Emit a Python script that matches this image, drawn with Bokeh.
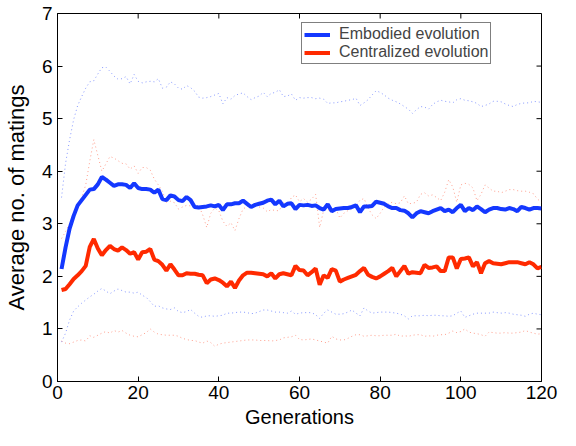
import math
from bokeh.plotting import figure
from bokeh.models import Legend, LegendItem, Range1d, FixedTicker
from bokeh.embed import file_html
from bokeh.resources import INLINE

generations = list(range(1, 121))

embodied_mean = [
    2.14, 2.55, 2.91, 3.15, 3.35, 3.45, 3.55, 3.65, 3.66, 3.75,
    3.89, 3.84, 3.78, 3.72, 3.75, 3.75, 3.74, 3.68, 3.77, 3.68,
    3.66, 3.66, 3.65, 3.59, 3.65, 3.47, 3.45, 3.54, 3.52, 3.45,
    3.43, 3.51, 3.45, 3.32, 3.31, 3.32, 3.33, 3.35, 3.33, 3.36,
    3.26, 3.37, 3.37, 3.39, 3.39, 3.44, 3.38, 3.32, 3.36, 3.38,
    3.40, 3.44, 3.46, 3.37, 3.44, 3.33, 3.38, 3.39, 3.28, 3.36,
    3.35, 3.36, 3.34, 3.35, 3.30, 3.27, 3.37, 3.24, 3.28, 3.29,
    3.30, 3.30, 3.32, 3.35, 3.22, 3.33, 3.33, 3.34, 3.42, 3.40,
    3.38, 3.33, 3.30, 3.30, 3.26, 3.25, 3.20, 3.12, 3.20, 3.24,
    3.22, 3.20, 3.24, 3.27, 3.30, 3.24, 3.27, 3.22, 3.30, 3.36,
    3.24, 3.30, 3.26, 3.33, 3.28, 3.22, 3.27, 3.30, 3.30, 3.28,
    3.27, 3.30, 3.28, 3.24, 3.32, 3.30, 3.27, 3.30, 3.30, 3.29,
]

centralized_mean = [
    1.74, 1.76, 1.85, 1.95, 2.02, 2.10, 2.20, 2.56, 2.71, 2.53,
    2.40, 2.50, 2.58, 2.52, 2.49, 2.55, 2.50, 2.43, 2.46, 2.32,
    2.46, 2.47, 2.52, 2.32, 2.29, 2.22, 2.11, 2.23, 2.13, 2.02,
    2.02, 2.06, 2.05, 2.05, 2.03, 2.02, 1.87, 1.94, 1.96, 1.93,
    1.88, 1.81, 1.90, 1.78, 1.92, 2.02, 2.07, 2.07, 2.06, 2.05,
    2.04, 2.00, 2.06, 1.96, 2.04, 2.06, 2.04, 2.02, 2.20, 2.12,
    2.11, 2.02, 2.08, 2.15, 1.84, 2.02, 1.97, 2.14, 2.11, 1.90,
    1.94, 1.97, 2.00, 2.03, 2.10, 2.16, 2.03, 1.99, 1.96, 2.00,
    2.05, 2.10, 2.16, 2.00, 2.10, 2.20, 2.05, 2.08, 2.07, 2.06,
    2.22, 2.16, 2.17, 2.19, 2.10, 2.10, 2.36, 2.36, 2.15, 2.33,
    2.34, 2.36, 2.19, 2.27, 2.06, 2.25, 2.29, 2.25, 2.24, 2.23,
    2.25, 2.27, 2.27, 2.27, 2.25, 2.23, 2.27, 2.23, 2.15, 2.18,
]

embodied_upper = [
    3.50, 4.15, 4.60, 4.98, 5.25, 5.42, 5.58, 5.70, 5.72, 5.85,
    5.97, 5.98, 5.90, 5.81, 5.75, 5.76, 5.80, 5.66, 5.84, 5.71,
    5.68, 5.70, 5.71, 5.70, 5.76, 5.58, 5.60, 5.70, 5.66, 5.58,
    5.56, 5.63, 5.59, 5.52, 5.41, 5.39, 5.40, 5.42, 5.45, 5.48,
    5.28, 5.40, 5.37, 5.44, 5.47, 5.49, 5.42, 5.36, 5.40, 5.43,
    5.50, 5.42, 5.48, 5.50, 5.55, 5.42, 5.43, 5.47, 5.35, 5.40,
    5.39, 5.40, 5.40, 5.38, 5.39, 5.37, 5.29, 5.30, 5.30, 5.32,
    5.33, 5.35, 5.36, 5.39, 5.25, 5.30, 5.36, 5.45, 5.53, 5.50,
    5.45, 5.39, 5.35, 5.32, 5.28, 5.23, 5.18, 5.10, 5.17, 5.23,
    5.22, 5.18, 5.27, 5.32, 5.35, 5.33, 5.32, 5.30, 5.36, 5.38,
    5.35, 5.34, 5.32, 5.29, 5.23, 5.25, 5.28, 5.33, 5.33, 5.32,
    5.28, 5.25, 5.23, 5.27, 5.29, 5.30, 5.30, 5.33, 5.32, 5.31,
]

embodied_lower = [
    0.75, 0.92, 1.17, 1.34, 1.42, 1.49, 1.55, 1.61, 1.66, 1.72,
    1.77, 1.72, 1.67, 1.72, 1.76, 1.73, 1.70, 1.70, 1.68, 1.70,
    1.64, 1.60, 1.52, 1.43, 1.44, 1.40, 1.38, 1.37, 1.40, 1.33,
    1.31, 1.33, 1.37, 1.30, 1.24, 1.22, 1.25, 1.25, 1.24, 1.25,
    1.26, 1.30, 1.30, 1.31, 1.32, 1.32, 1.31, 1.29, 1.30, 1.33,
    1.36, 1.36, 1.34, 1.32, 1.32, 1.31, 1.30, 1.34, 1.28, 1.30,
    1.31, 1.31, 1.31, 1.27, 1.20, 1.30, 1.36, 1.32, 1.28, 1.28,
    1.29, 1.32, 1.36, 1.30, 1.25, 1.40, 1.34, 1.30, 1.31, 1.32,
    1.32, 1.32, 1.31, 1.30, 1.28, 1.25, 1.19, 1.25, 1.25, 1.25,
    1.26, 1.25, 1.26, 1.26, 1.25, 1.25, 1.24, 1.25, 1.30, 1.34,
    1.22, 1.25, 1.28, 1.30, 1.30, 1.30, 1.30, 1.32, 1.31, 1.30,
    1.31, 1.30, 1.28, 1.27, 1.26, 1.24, 1.28, 1.30, 1.28, 1.27,
]

centralized_upper = [
    2.72, 2.85, 3.00, 3.20, 3.35, 3.50, 3.74, 4.19, 4.60, 4.30,
    4.00, 4.14, 4.28, 4.25, 4.20, 4.15, 4.14, 4.04, 4.10, 3.96,
    4.07, 4.07, 4.02, 3.85, 3.74, 3.62, 3.41, 3.43, 3.40, 3.28,
    3.32, 3.35, 3.34, 3.32, 3.35, 3.17, 2.93, 3.20, 3.30, 3.25,
    3.05, 2.95, 3.02, 2.87, 3.10, 3.28, 3.33, 3.35, 3.33, 3.32,
    3.30, 3.23, 3.27, 3.25, 3.25, 3.41, 3.35, 3.50, 3.55, 3.42,
    3.48, 3.41, 3.47, 3.56, 2.93, 3.26, 3.26, 3.28, 3.29, 3.11,
    3.20, 3.25, 3.28, 3.35, 3.45, 3.48, 3.30, 3.17, 3.10, 3.20,
    3.32, 3.38, 3.41, 3.38, 3.40, 3.53, 3.38, 3.39, 3.41, 3.56,
    3.59, 3.53, 3.55, 3.50, 3.44, 3.60, 3.84, 3.70, 3.41, 3.74,
    3.77, 3.75, 3.68, 3.44, 3.56, 3.74, 3.68, 3.62, 3.62, 3.59,
    3.62, 3.65, 3.65, 3.63, 3.62, 3.62, 3.60, 3.57, 3.47, 3.41,
]

centralized_lower = [
    0.77, 0.73, 0.72, 0.75, 0.78, 0.79, 0.77, 0.87, 0.84, 0.88,
    0.92, 0.95, 0.92, 0.97, 0.94, 0.97, 0.92, 0.88, 0.86, 0.85,
    0.89, 0.93, 1.00, 0.94, 0.90, 0.89, 0.88, 0.88, 0.88, 0.86,
    0.82, 0.80, 0.78, 0.78, 0.75, 0.73, 0.77, 0.74, 0.67, 0.71,
    0.73, 0.74, 0.75, 0.76, 0.77, 0.78, 0.79, 0.79, 0.79, 0.78,
    0.78, 0.78, 0.77, 0.78, 0.79, 0.83, 0.84, 0.85, 0.88, 0.80,
    0.79, 0.80, 0.81, 0.79, 0.77, 0.75, 0.73, 0.86, 0.81, 0.79,
    0.79, 0.82, 0.86, 0.89, 0.89, 0.86, 0.87, 0.88, 0.87, 0.87,
    0.88, 0.88, 0.88, 0.90, 0.86, 0.87, 0.86, 0.88, 0.89, 0.89,
    0.86, 0.87, 0.86, 0.88, 0.89, 0.89, 0.92, 0.96, 0.93, 0.95,
    1.00, 0.94, 0.92, 0.91, 0.89, 0.86, 0.94, 0.93, 0.92, 0.92,
    0.93, 0.92, 0.92, 0.93, 0.94, 0.97, 0.94, 0.92, 0.90, 0.91,
]

x_ticks = [0, 20, 40, 60, 80, 100, 120]
y_ticks = [0, 1, 2, 3, 4, 5, 6, 7]
series_labels = ["Embodied evolution", "Centralized evolution"]

X_MIN, X_MAX = 0, 120
Y_MIN, Y_MAX = 0, 7

BLUE = "#1438ff"
RED = "#ff2a00"
FONT = "Liberation Sans"

p = figure(width=560, height=430, x_range=Range1d(X_MIN, X_MAX), y_range=Range1d(Y_MIN, Y_MAX),
           output_backend="svg", toolbar_location=None,
           min_border_left=56, min_border_right=19, min_border_top=13, min_border_bottom=48)
p.background_fill_color = "white"
p.border_fill_color = "white"
p.grid.visible = False
p.outline_line_color = "black"
p.outline_line_width = 1

for ax in (p.xaxis[0], p.yaxis[0]):
    ax.major_tick_in = 5
    ax.major_tick_out = 0
    ax.minor_tick_line_color = None
    ax.axis_line_color = "black"
    ax.major_tick_line_color = "black"
    ax.major_label_text_font = FONT
    ax.major_label_text_font_size = "19px"
    ax.major_label_text_color = "black"
    ax.axis_label_text_font = FONT
    ax.axis_label_text_font_style = "normal"
    ax.axis_label_text_color = "black"

p.xaxis.ticker = FixedTicker(ticks=x_ticks)
p.yaxis.ticker = FixedTicker(ticks=y_ticks)
p.xaxis.axis_label = "Generations"
p.yaxis.axis_label = "Average no. of matings"
p.xaxis.axis_label_text_font_size = "20px"
p.yaxis.axis_label_text_font_size = "22px"
p.xaxis.major_label_standoff = 4
p.xaxis.axis_label_standoff = 4
p.yaxis.major_label_standoff = 5
p.yaxis.axis_label_standoff = 10

# box ticks on the top and right edges (MATLAB "box on")
p.ray(x=x_ticks, y=[Y_MAX] * len(x_ticks), length=5, length_units="screen",
      angle=-math.pi / 2, line_color="black", line_width=1)
p.ray(x=[X_MAX] * len(y_ticks), y=y_ticks, length=5, length_units="screen",
      angle=math.pi, line_color="black", line_width=1)

dot = dict(line_width=1, line_dash="1 3")
p.line(generations, embodied_upper, line_color=BLUE, line_alpha=0.5, **dot)
p.line(generations, embodied_lower, line_color=BLUE, line_alpha=0.5, **dot)
p.line(generations, centralized_upper, line_color=RED, line_alpha=0.45, **dot)
p.line(generations, centralized_lower, line_color=RED, line_alpha=0.45, **dot)

r_emb = p.line(generations, embodied_mean, line_color=BLUE, line_width=4)
r_cen = p.line(generations, centralized_mean, line_color=RED, line_width=4)

legend = Legend(items=[LegendItem(label=series_labels[0], renderers=[r_emb]),
                       LegendItem(label=series_labels[1], renderers=[r_cen])],
                location=(244, 317), orientation="vertical",
                padding=2, spacing=0, margin=0, label_standoff=9,
                glyph_width=26, glyph_height=15, label_height=15,
                label_text_font=FONT, label_text_font_size="16px",
                border_line_color="black", border_line_width=1,
                background_fill_color="white", background_fill_alpha=1)
p.add_layout(legend, "center")

open("out.html", "w").write(file_html(p, INLINE))
